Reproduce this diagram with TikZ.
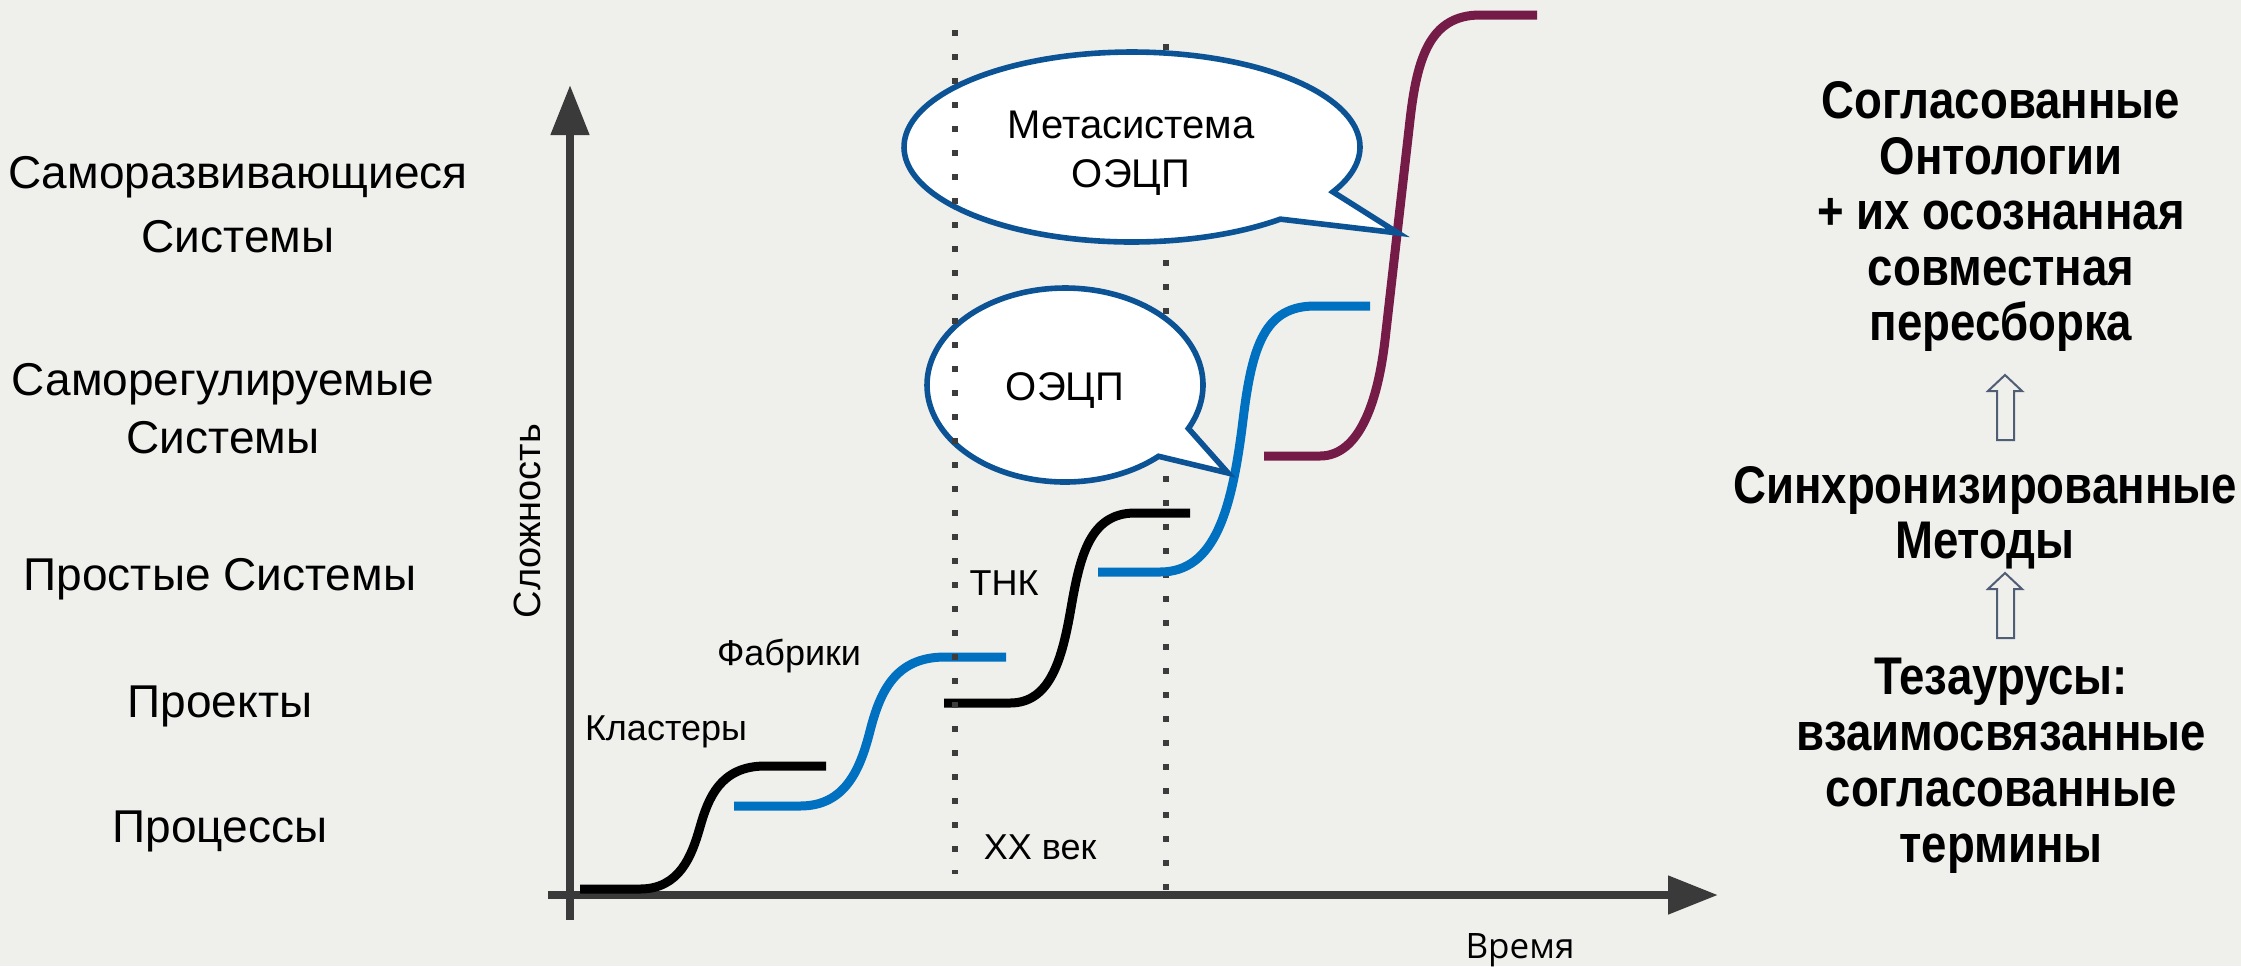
\documentclass[tikz,border=0pt]{standalone}
\usepackage{fontspec}
\setmainfont{Liberation Sans}
\newfontfamily\rbold[FakeStretch=0.86]{Liberation Sans}
\newfontfamily\osans{Open Sans}
\usetikzlibrary{arrows.meta}
\definecolor{bg}{HTML}{EFEFEC}
\definecolor{axisgray}{HTML}{3A3A3A}
\definecolor{dotgray}{HTML}{3C3C3C}
\definecolor{curveblue}{HTML}{0070C0}
\definecolor{curvepurple}{HTML}{741B47}
\definecolor{bubblue}{HTML}{0B5394}
\definecolor{arrgray}{HTML}{4F5D75}
\begin{document}
\begin{tikzpicture}[x=0.5pt,y=-0.5pt,
  lbl/.style={anchor=base, inner sep=0pt, font=\fontsize{23}{28}\selectfont},
  rlbl/.style={anchor=base, inner sep=0pt, font=\rbold\bfseries\fontsize{26.5}{32}\selectfont},
  glbl/.style={anchor=base, inner sep=0pt, font=\fontsize{18}{22}\selectfont},
  btxt/.style={anchor=base, inner sep=0pt, font=\fontsize{20}{24}\selectfont},
  axisline/.style={line width=4pt, draw=axisgray, -{Triangle[length=25pt,width=18.5pt]}},
  dotline/.style={draw=dotgray, line width=2.8pt, dash pattern=on 2.8pt off 9.2pt},
  scurve/.style={line width=4.5pt},
  bubble/.style={draw=bubblue, line width=2.8pt, fill=white, line join=miter},
  hollow/.style={draw=arrgray, line width=1pt, fill=bg, line join=miter}]
\fill[bg] (0,0) rectangle (2241,966);
\useasboundingbox (0,0) rectangle (2241,966);

% dotted line behind bubbles
\draw[dotline] (1166,44) -- (1166,892);

% axes
\draw[axisline] (570,920) -- (570,85);
\draw[axisline] (548,895) -- (1718,895);

% curves
\draw[scurve, black] (580,889) -- (640,889) .. controls (680,889) and (692,855) .. (700,827) .. controls (708,799) and (720,766) .. (765,766) -- (826,766);
\draw[scurve, curveblue] (734,806) -- (800,806) .. controls (845,806) and (860,770) .. (870,731) .. controls (880,692) and (895,657) .. (945,657) -- (1006,657);
\draw[scurve, black] (944,703) -- (1010,703) .. controls (1050,703) and (1062,660) .. (1071,608) .. controls (1080,556) and (1090,513) .. (1135,513) -- (1190,513);
\draw[scurve, curveblue] (1098,572) -- (1160,572) .. controls (1215,572) and (1232,510) .. (1243,420) .. controls (1252,345) and (1265,306) .. (1315,306) -- (1370,306);
\draw[scurve, curvepurple] (1264,456) -- (1320,456) .. controls (1360,456) and (1378,400) .. (1385,340) -- (1410,120) .. controls (1417,58) and (1430,15) .. (1480,15) -- (1537,15);

% bubbles
\draw[bubble] plot[domain=49.4:388.2, samples=160] ({1132+228*cos(\x)},{147+95*sin(\x)}) -- (1398,233) -- cycle;
\draw[bubble] plot[domain=47.3:386.6, samples=160] ({1065+138*cos(\x)},{385+97*sin(\x)}) -- (1228,473) -- cycle;

% dotted line over bubbles
\draw[dotline] (955,30) -- (955,874);

% bubble texts
\node[btxt] (m1) at (1131,138) {Метасистема};
\node[btxt] (m2) at (1131,187) {ОЭЦП};
\node[btxt] (o1) at (1065,400) {ОЭЦП};

% graph labels
\node[glbl] (kl) at (666,740) {Кластеры};
\node[glbl] (fab) at (789,665) {Фабрики};
\node[glbl] (tnk) at (1004,595) {ТНК};
\node[glbl] (xx) at (1040,859) {XX век};
\node[font=\fontsize{19}{23}\selectfont, rotate=90, inner sep=0pt] (cx) at (527,521) {Сложность};
\node[font=\osans\fontsize{17.5}{21}\selectfont, anchor=base, inner sep=0pt] (vr) at (1520,958) {Время};

% left labels
\node[lbl] (l1a) at (238,188) {Саморазвивающиеся};
\node[lbl] (l1b) at (238,252) {Системы};
\node[lbl] (l2a) at (223,395) {Саморегулируемые};
\node[lbl] (l2b) at (223,453) {Системы};
\node[lbl] (l3) at (220,590) {Простые Системы};
\node[lbl] (l4) at (220,717) {Проекты};
\node[lbl] (l5) at (220,842) {Процессы};

% right labels
\node[rlbl] (r1) at (2001,118) {Согласованные};
\node[rlbl] (r2) at (2001,174) {Онтологии};
\node[rlbl] (r3) at (2001,229) {+ их осознанная};
\node[rlbl] (r4) at (2001,285) {совместная};
\node[rlbl] (r5) at (2001,340) {пересборка};
\node[rlbl] (s1) at (1985,503) {Синхронизированные};
\node[rlbl] (s2) at (1985,558) {Методы};
\node[rlbl] (t1) at (2001,694) {Тезаурусы:};
\node[rlbl] (t2) at (2001,750) {взаимосвязанные};
\node[rlbl] (t3) at (2001,806) {согласованные};
\node[rlbl] (t4) at (2001,862) {термины};

% hollow up arrows
\draw[hollow] (1997,440) -- (1997,391) -- (1988,391) -- (2005,375) -- (2022,391) -- (2014,391) -- (2014,440) -- cycle;
\draw[hollow] (1997,638) -- (1997,589) -- (1988,589) -- (2005,573) -- (2022,589) -- (2014,589) -- (2014,638) -- cycle;
\end{tikzpicture}
\end{document}
